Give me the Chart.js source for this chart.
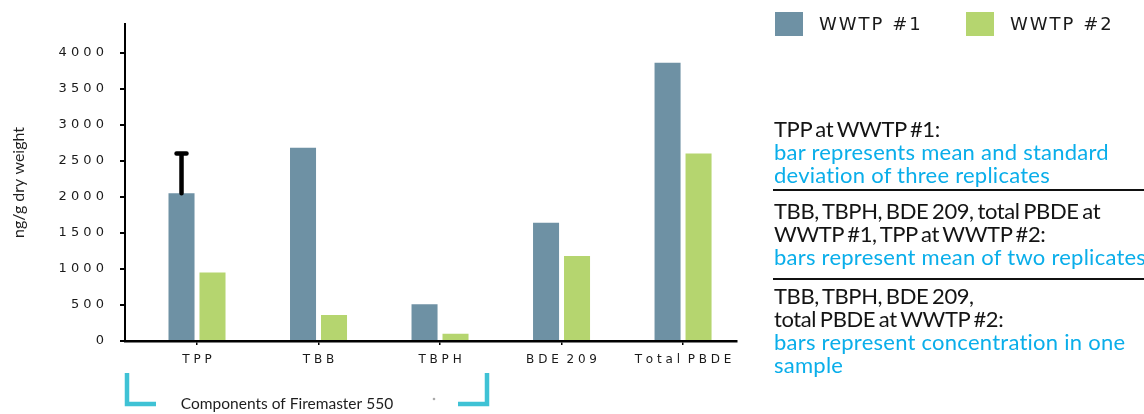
<!DOCTYPE html>
<html>
<head>
<meta charset="utf-8">
<script src="https://cdn.jsdelivr.net/npm/chart.js@4.4.0/dist/chart.umd.min.js"></script>
<style>
  html, body { margin: 0; padding: 0; background: #fff; }
  #wrap { position: relative; width: 1144px; height: 414px; overflow: hidden; }
  #chart { position: absolute; left: 0; top: 0; }
  #legend { position: absolute; left: 775px; top: 12px; display: flex; }
  .lg-item { width: 191px; display: flex; align-items: center; height: 24px; }
  .lg-box { width: 28px; height: 24px; margin-right: 16px; flex: none; }
  .lg-text { font: 18px "DejaVu Sans", sans-serif; letter-spacing: 2px; color: #1a1a1a; line-height: 24px; white-space: nowrap; }
  .note { position: absolute; left: 774px; font: 22px Lato, sans-serif; letter-spacing: 0.25px; line-height: 23.3px; white-space: nowrap; }
  .note .k { color: #141414; letter-spacing: -0.4px; word-spacing: -1.5px; }
  .note .b { color: #0aaeea; }
  .rule { position: absolute; left: 773px; width: 371px; height: 2px; background: #111; }
</style>
</head>
<body>
<div id="wrap">
  <canvas id="chart" width="1144" height="414"></canvas>
  <div id="legend"></div>

  <div class="note" style="top:116.6px">
    <div class="k">TPP at WWTP #1:</div>
    <div class="b">bar represents mean and standard</div>
    <div class="b">deviation of three replicates</div>
  </div>
  <div class="rule" style="top:189px"></div>
  <div class="note" style="top:198.6px">
    <div class="k">TBB, TBPH, BDE 209, total PBDE at</div>
    <div class="k">WWTP #1, TPP at WWTP #2:</div>
    <div class="b">bars represent mean of two replicates</div>
  </div>
  <div class="rule" style="top:278px"></div>
  <div class="note" style="top:283.6px">
    <div class="k">TBB, TBPH, BDE 209,</div>
    <div class="k">total PBDE at WWTP #2:</div>
    <div class="b">bars represent concentration in one</div>
    <div class="b">sample</div>
  </div>
</div>

<script>
// Concentrations (ng/g dry weight) of Firemaster 550 components and PBDEs
const categories = ['TPP', 'TBB', 'TBPH', 'BDE 209', 'Total PBDE'];
const seriesNames = ['WWTP #1', 'WWTP #2'];
const wwtp1 = [2050, 2680, 510, 1640, 3860];
const wwtp2 = [950, 360, 100, 1180, 2600];
// standard deviation (only TPP at WWTP #1 has three replicates)
const wwtp1Sd = [550, null, null, null, null];
const yTicks = [0, 500, 1000, 1500, 2000, 2500, 3000, 3500, 4000];

const seriesColors = ['#6e91a4', '#b5d56f'];

// letter-spaced label text, e.g. "T P P"
const spaced = s => s.split(' ').map(w => w.split('').join(' ')).join('  ');

// vertical error bar with a cap above the mean
const errorBars = {
  id: 'errorBars',
  afterDatasetsDraw(chart) {
    const { ctx, scales: { y } } = chart;
    const meta = chart.getDatasetMeta(0);
    ctx.save();
    ctx.strokeStyle = '#000';
    ctx.lineWidth = 4.5;
    ctx.lineCap = 'round';
    wwtp1Sd.forEach((sd, i) => {
      if (sd == null) return;
      const bar = meta.data[i];
      const top = y.getPixelForValue(wwtp1[i] + sd);
      ctx.beginPath();
      ctx.moveTo(bar.x, bar.y);
      ctx.lineTo(bar.x, top);
      ctx.moveTo(bar.x - 5, top);
      ctx.lineTo(bar.x + 5, top);
      ctx.stroke();
    });
    ctx.restore();
  }
};

// bracket grouping the Firemaster 550 components below the axis
const groupBracket = {
  id: 'groupBracket',
  afterDraw(chart) {
    const { ctx, chartArea } = chart;
    const left = chartArea.left + 2;
    const right = 487;
    const top = 373, base = 404;
    ctx.save();
    ctx.strokeStyle = '#3fc2d5';
    ctx.lineWidth = 4.5;
    ctx.lineJoin = 'miter';
    ctx.beginPath();
    ctx.moveTo(left, top); ctx.lineTo(left, base); ctx.lineTo(left + 29, base);
    ctx.moveTo(right, top); ctx.lineTo(right, base); ctx.lineTo(right - 29, base);
    ctx.stroke();
    ctx.fillStyle = '#1e1e1e';
    ctx.font = '15.5px Lato, sans-serif';
    ctx.textAlign = 'center';
    ctx.textBaseline = 'middle';
    ctx.fillText('Components of Firemaster 550', 287, 404);
    ctx.fillStyle = '#aaa';
    ctx.beginPath(); ctx.arc(434, 399, 1.3, 0, Math.PI * 2); ctx.fill();
    ctx.restore();
  }
};

// HTML legend built from the chart's own legend items
const htmlLegend = {
  id: 'htmlLegend',
  afterUpdate(chart) {
    const box = document.getElementById('legend');
    box.innerHTML = '';
    const items = chart.options.plugins.legend.labels.generateLabels(chart);
    items.forEach(item => {
      const el = document.createElement('div');
      el.className = 'lg-item';
      const sw = document.createElement('span');
      sw.className = 'lg-box';
      sw.style.background = item.fillStyle;
      const tx = document.createElement('span');
      tx.className = 'lg-text';
      tx.textContent = item.text;
      el.appendChild(sw); el.appendChild(tx);
      box.appendChild(el);
    });
  }
};

const datasets = [wwtp1, wwtp2].map((vals, k) => ({
  label: seriesNames[k],
  data: vals.map((v, i) => ({ x: i, y: v })),
  backgroundColor: seriesColors[k],
  borderWidth: 0,
  barPercentage: 0.84,
  categoryPercentage: 0.51
}));

new Chart(document.getElementById('chart'), {
  type: 'bar',
  data: { datasets },
  plugins: [errorBars, groupBracket, htmlLegend],
  options: {
    responsive: false,
    animation: false,
    devicePixelRatio: 1,
    layout: { padding: { top: 23, right: 407, bottom: 0, left: 0 } },
    plugins: {
      legend: { display: false },
      tooltip: { enabled: false }
    },
    scales: {
      x: {
        type: 'linear',
        min: -0.5926,
        max: 4.444,
        offset: false,
        afterFit: s => { s.height = 73; },
        grid: { display: true, offset: false, drawOnChartArea: false, drawTicks: true, tickLength: 4, color: '#000', lineWidth: 1.5 },
        border: { display: true, color: '#000', width: 2.5 },
        ticks: {
          stepSize: 1,
          includeBounds: false,
          autoSkip: false,
          maxRotation: 0,
          padding: 8,
          color: '#1a1a1a',
          font: { family: '"DejaVu Sans", sans-serif', size: 12 },
          callback: v => categories[v] !== undefined ? spaced(categories[v]) : ''
        }
      },
      y: {
        min: 0,
        max: 4400,
        afterFit: s => { s.width = 125; },
        afterBuildTicks: s => { s.ticks = yTicks.map(v => ({ value: v })); },
        grid: { display: true, drawOnChartArea: false, drawTicks: true, tickLength: 5, color: '#000', lineWidth: 2 },
        border: { display: true, color: '#000', width: 2 },
        ticks: {
          padding: 16,
          color: '#1a1a1a',
          font: { family: '"DejaVu Sans", sans-serif', size: 13 },
          callback: v => spaced(String(v))
        },
        title: {
          display: true,
          text: 'ng/g dry weight',
          color: '#1e1e1e',
          font: { family: 'Lato, sans-serif', size: 16 },
          padding: { top: 9, bottom: 0 }
        }
      }
    }
  }
});
</script>
</body>
</html>
